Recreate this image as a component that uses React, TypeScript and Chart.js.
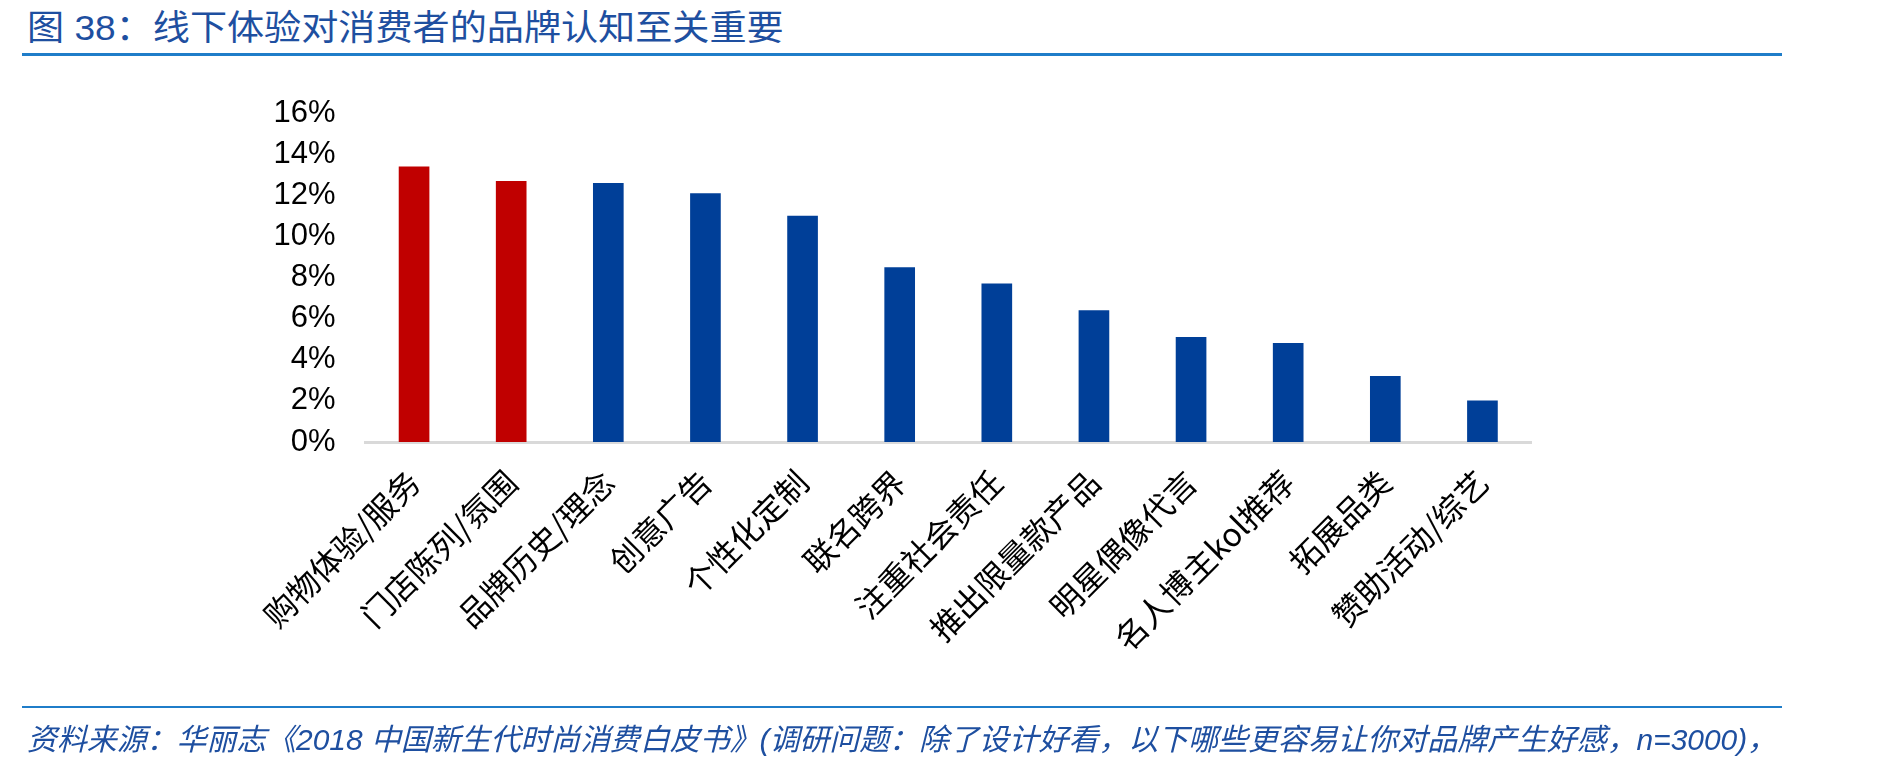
import React, { useEffect, useLayoutEffect, useRef, useState } from "react";
import { Chart, registerables } from "chart.js";

Chart.register(...registerables);

const TITLE = "图 38：线下体验对消费者的品牌认知至关重要";
const SOURCE =
  "资料来源：华丽志《2018 中国新生代时尚消费白皮书》(调研问题：除了设计好看，以下哪些更容易让你对品牌产生好感，n=3000)，";

const categories = [
  "购物体验/服务",
  "门店陈列/氛围",
  "品牌历史/理念",
  "创意广告",
  "个性化定制",
  "联名跨界",
  "注重社会责任",
  "推出限量款产品",
  "明星偶像代言",
  "名人博主kol推荐",
  "拓展品类",
  "赞助活动/综艺",
];
const shares = [13.4, 12.7, 12.6, 12.1, 11.0, 8.5, 7.7, 6.4, 5.1, 4.8, 3.2, 2.0];
const highlighted = [true, true, false, false, false, false, false, false, false, false, false, false];
const yTicks = { min: 0, max: 16, step: 2 };

const RED = "#C00000";
const BLUE = "#003F98";
const TEXT_BLUE = "#1E4FA0";
const LINE_BLUE = "#1F7DC9";

function FitText(props: {
  text: string;
  left: number;
  top: number;
  width: number;
  style: React.CSSProperties;
}) {
  const ref = useRef<HTMLSpanElement>(null);
  const [sx, setSx] = useState(1);
  useLayoutEffect(() => {
    const measure = () => {
      if (!ref.current) return;
      const w = ref.current.offsetWidth;
      if (w > 0) setSx(props.width / w);
    };
    measure();
    if ((document as any).fonts && (document as any).fonts.ready) {
      (document as any).fonts.ready.then(measure);
    }
  }, []);
  return (
    <span
      ref={ref}
      style={{
        position: "absolute",
        left: props.left,
        top: props.top,
        whiteSpace: "nowrap",
        lineHeight: 1,
        transformOrigin: "0 0",
        transform: `scaleX(${sx})`,
        ...props.style,
      }}
    >
      {props.text}
    </span>
  );
}

export default function App() {
  const canvasRef = useRef<HTMLCanvasElement>(null);

  useEffect(() => {
    const canvas = canvasRef.current;
    if (!canvas) return;
    const W = 1901;
    const H = 771;
    const areaLeft = 365.5;
    const areaRight = 1531;
    const areaTop = 113.5;
    const areaBottom = 442;
    const xAxisHeight = 320;

    const chart = new Chart(canvas, {
      type: "bar",
      data: {
        labels: categories,
        datasets: [
          {
            data: shares,
            backgroundColor: highlighted.map((h) => (h ? RED : BLUE)),
            borderWidth: 0,
            barThickness: 30,
          },
        ],
      },
      options: {
        animation: false,
        responsive: false,
        devicePixelRatio: 1,
        layout: {
          padding: {
            left: 0,
            top: areaTop,
            right: W - areaRight,
            bottom: H - areaBottom - xAxisHeight,
          },
        },
        plugins: {
          legend: { display: false },
          tooltip: { enabled: false },
          title: { display: false },
        },
        scales: {
          x: {
            grid: { display: false, drawTicks: false },
            border: { display: true, color: "#D9D9D9", width: 3 },
            ticks: {
              autoSkip: false,
              maxRotation: 45,
              minRotation: 45,
              padding: 21,
              labelOffset: 0,
              color: "#000000",
              font: { family: "'Noto Sans CJK SC', 'Liberation Sans', sans-serif", size: 32, lineHeight: 1.2 },
            },
            afterFit: (scale: any) => {
              scale.height = xAxisHeight;
              scale.paddingLeft = 0;
              scale.paddingRight = 0;
            },
          },
          y: {
            min: yTicks.min,
            max: yTicks.max,
            grid: { display: false, drawTicks: false },
            border: { display: false },
            ticks: {
              stepSize: yTicks.step,
              padding: 30,
              color: "#000000",
              font: { family: "'Liberation Sans', Arial, sans-serif", size: 31 },
              callback: (v: any) => `${v}%`,
            },
            afterFit: (scale: any) => {
              scale.width = areaLeft;
              scale.paddingTop = 0;
              scale.paddingBottom = 0;
            },
          },
        },
      },
    });
    return () => chart.destroy();
  }, []);

  return (
    <div
      style={{
        position: "fixed",
        left: 0,
        top: 0,
        width: 1901,
        height: 771,
        background: "#ffffff",
        overflow: "hidden",
      }}
    >
      <FitText
        text={TITLE}
        left={26.5}
        top={10}
        width={757}
        style={{
          fontFamily: "'Liberation Sans', 'Noto Sans CJK SC', sans-serif",
          fontSize: 35,
          color: TEXT_BLUE,
        }}
      />
      <div
        style={{
          position: "absolute",
          left: 21.7,
          top: 53.3,
          width: 1760,
          height: 2.5,
          background: LINE_BLUE,
        }}
      />
      <canvas
        ref={canvasRef}
        width={1901}
        height={771}
        style={{ position: "absolute", left: 0, top: 0, width: 1901, height: 771 }}
      />
      <div
        style={{
          position: "absolute",
          left: 21.7,
          top: 705.7,
          width: 1760,
          height: 2,
          background: LINE_BLUE,
        }}
      />
      <FitText
        text={SOURCE}
        left={26.7}
        top={724.6}
        width={1750}
        style={{
          fontFamily: "'Liberation Sans', 'Noto Sans CJK SC', sans-serif",
          fontSize: 30,
          fontStyle: "italic",
          color: TEXT_BLUE,
        }}
      />
    </div>
  );
}
